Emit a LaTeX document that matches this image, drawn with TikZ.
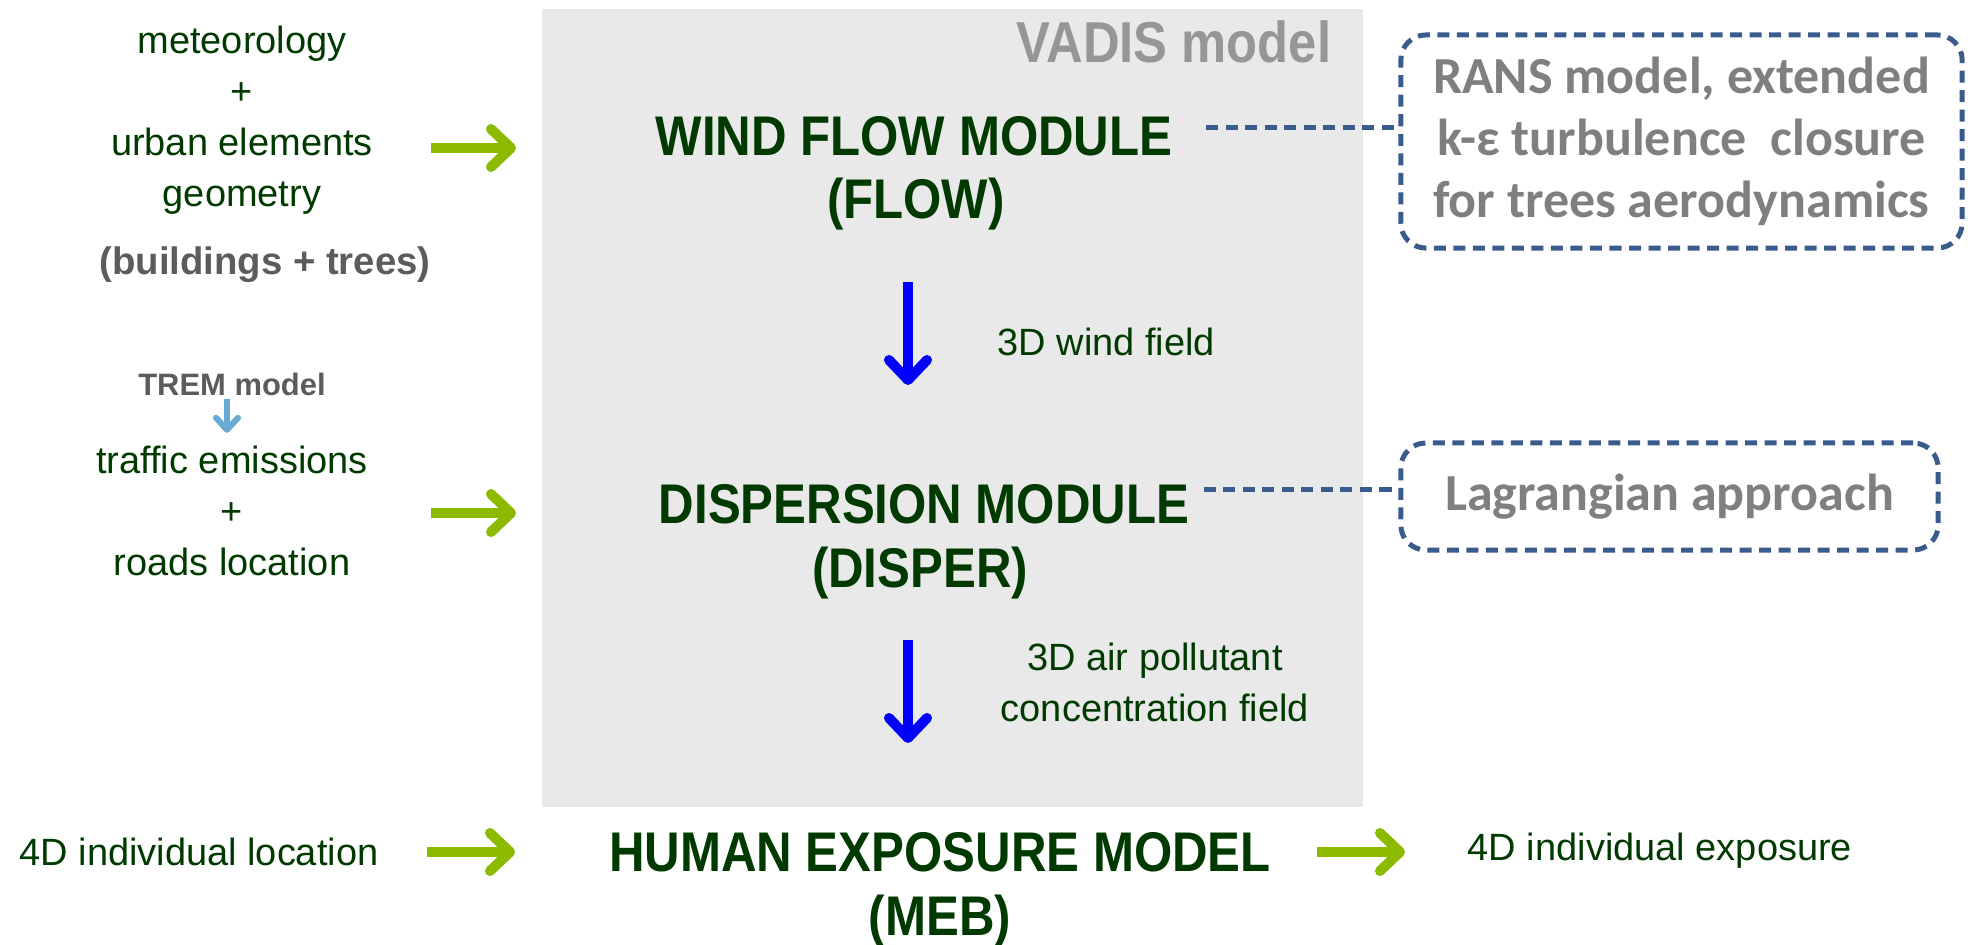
\documentclass[tikz,border=0pt]{standalone}
\usepackage{fontspec}
\setmainfont{Liberation Sans}
\newfontfamily\headfont[FakeStretch=0.88]{Liberation Sans}
\newfontfamily\notefont{Carlito}
\usetikzlibrary{arrows.meta}

\definecolor{textgreen}{RGB}{0,58,0}
\definecolor{arrowgreen}{RGB}{140,186,0}
\definecolor{boxgray}{RGB}{233,233,233}
\definecolor{vadisgray}{RGB}{150,150,150}
\definecolor{notegray}{RGB}{127,127,127}
\definecolor{labelgray}{RGB}{92,92,92}
\definecolor{linkblue}{RGB}{59,91,140}
\definecolor{tremblue}{RGB}{105,170,212}

\tikzset{
  intext/.style={text=textgreen, align=center, inner sep=0pt, font=\fontsize{10.8}{14.5}\selectfont},
  modtext/.style={text=textgreen, inner sep=0pt, font=\headfont\bfseries\fontsize{15.9}{18}\selectfont},
  vadistext/.style={text=vadisgray, inner sep=0pt, font=\headfont\bfseries\fontsize{16.4}{18}\selectfont},
  graytext/.style={text=labelgray, inner sep=0pt, font=\bfseries\fontsize{10.9}{13}\selectfont},
  tremtext/.style={text=labelgray, inner sep=0pt, font=\bfseries\fontsize{8.8}{10}\selectfont},
  notebox/.style={draw=linkblue, line width=0.05cm, dash pattern=on 0.12cm off 0.075cm,
    rounded corners=0.25cm, text=notegray, align=center, inner sep=0pt,
    font=\notefont\bfseries\fontsize{14.8}{17.6}\selectfont},
  linkline/.style={draw=linkblue, line width=0.05cm, dash pattern=on 0.12cm off 0.075cm},
  inarrow/.style={draw=arrowgreen, line width=0.1cm,
    -{Straight Barb[length=0.2cm, width=0.38cm, line cap=round, line join=round]}},
  fieldarrow/.style={draw=blue, line width=0.1cm,
    -{Straight Barb[length=0.2cm, width=0.38cm, line cap=round, line join=round]}},
  tremarrow/.style={draw=tremblue, line width=0.06cm,
    -{Straight Barb[length=0.12cm, width=0.22cm, line cap=round, line join=round]}}
}

\begin{document}
\begin{tikzpicture}[x=0.01cm, y=-0.01cm]
\useasboundingbox (0,0) rectangle (1971,945);

%% VADIS box
\fill[boxgray] (542,9) rectangle (1363,807);
\node[vadistext, anchor=base east] (vadis) at (1332,62) {VADIS model};

%% modules
\node[modtext, anchor=base] (flowname) at (914,155) {WIND FLOW MODULE};
\node[modtext, anchor=base] (flowabbr) at (916,218) {(FLOW)};
\node[modtext, anchor=base] (dispname) at (924,523) {DISPERSION MODULE};
\node[modtext, anchor=base] (dispabbr) at (920,587) {(DISPER)};
\node[modtext, anchor=base] (mebname) at (940,871) {HUMAN EXPOSURE MODEL};
\node[modtext, anchor=base] (mebabbr) at (940,935) {(MEB)};

%% fields
\coordinate (windtop) at (908,282);
\coordinate (windtip) at (908,385);
\draw[fieldarrow] (windtop) -- (windtip);
\node[intext, anchor=base west] (windfield) at (997,355) {3D wind field};

\coordinate (conctop) at (908,640);
\coordinate (conctip) at (908,743);
\draw[fieldarrow] (conctop) -- (conctip);
% base of a two-line node = last line
\node[intext, anchor=base] (concfield) at (1155,721) {3D air pollutant\\concentration field};

%% inputs
\node[intext, anchor=base] (meteo) at (242,206) {meteorology\\+\\urban elements\\geometry};
\node[graytext, anchor=base] (bldg) at (265,274) {(buildings + trees)};
\coordinate (meteofrom) at (431,148);
\coordinate (meteoto) at (516,148);
\draw[inarrow] (meteofrom) -- (meteoto);

\node[tremtext, anchor=base] (trem) at (232,395) {TREM model};
\node[intext, anchor=base] (traffic) at (232,575) {traffic emissions\\+\\roads location};
\draw[tremarrow] ([xshift=-0.05cm,yshift=-0.03cm]trem.south) -- ([xshift=-0.05cm,yshift=0.12cm]trem.south |- traffic.north);
\coordinate (trafficfrom) at (431,513);
\coordinate (trafficto) at (516,513);
\draw[inarrow] (trafficfrom) -- (trafficto);

\node[intext, anchor=base] (indloc) at (199,865) {4D individual location};
\coordinate (locfrom) at (427,852);
\coordinate (locto) at (515,852);
\draw[inarrow] (locfrom) -- (locto);

%% output
\node[intext, anchor=base] (indexp) at (1660,860) {4D individual exposure};
\coordinate (expfrom) at (1317,852);
\coordinate (expto) at (1405,852);
\draw[inarrow] (expfrom) -- (expto);

%% notes
\node[notebox, minimum width=5.61cm, minimum height=2.13cm] (rans) at (1681.5,141.5)
  {RANS model, extended\\k-ε turbulence\ \ closure\\for trees aerodynamics};
\node[notebox, minimum width=5.37cm, minimum height=1.07cm] (lagr) at (1669.5,496.5)
  {Lagrangian approach};
\draw[linkline] ([xshift=0.33cm,yshift=0.08cm]flowname.east) -- ([yshift=0.08cm]flowname.east -| rans.west);
\draw[linkline] ([xshift=0.14cm,yshift=0.14cm]dispname.east) -- ([yshift=0.14cm]dispname.east -| lagr.west);

\end{tikzpicture}
\end{document}
